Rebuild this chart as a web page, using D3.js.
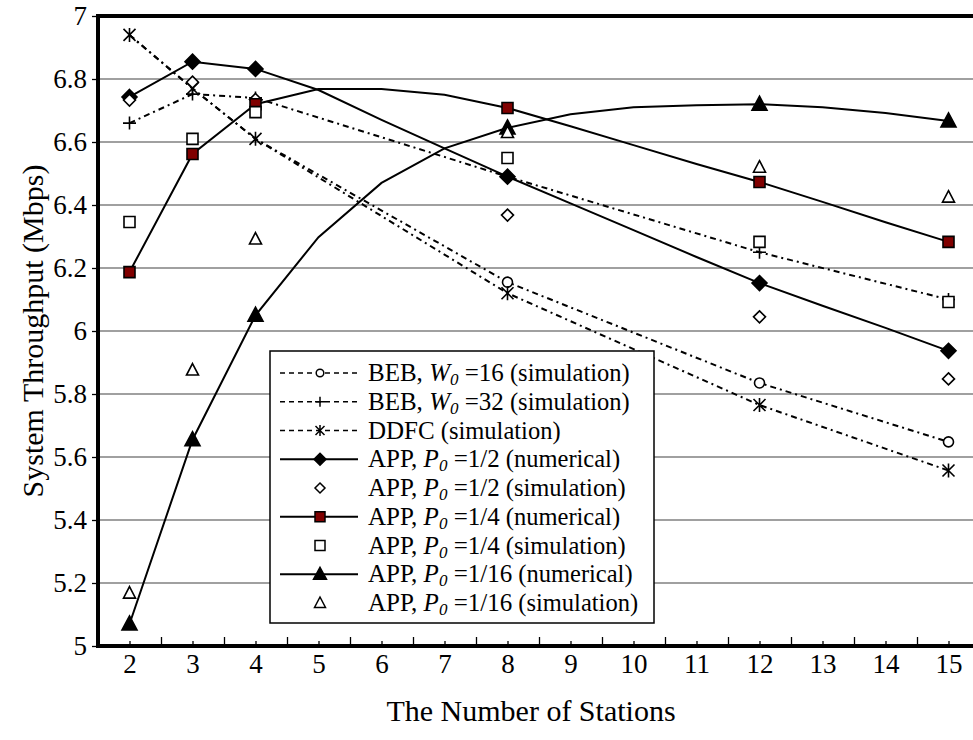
<!DOCTYPE html>
<html>
<head>
<meta charset="utf-8">
<script src="https://cdn.jsdelivr.net/npm/d3@7/dist/d3.min.js"></script>
<style>
  body { margin: 0; background: #fff; }
  svg { display: block; font-family: "Liberation Serif", "Times New Roman", serif; }
</style>
</head>
<body>
<svg id="chart" width="973" height="740"></svg>
<script>
// Number of stations (category axis)
const stations = [2, 3, 4, 5, 6, 7, 8, 9, 10, 11, 12, 13, 14, 15];
// Station counts where simulation results / markers exist
const markedStations = [2, 3, 4, 8, 12, 15];
// BEB W0=16 markers are only drawn where they are not covered by DDFC
const bebW16Marked = [8, 12, 15];

// Simulation results (Mbps) at markedStations
const bebW16Sim = [6.94, 6.77, 6.61, 6.155, 5.835, 5.648];
const bebW32Sim = [6.66, 6.752, 6.74, 6.49, 6.25, 6.10];
const ddfcSim   = [6.94, 6.77, 6.61, 6.12, 5.765, 5.557];
const appHalfSim    = [6.733, 6.79, 6.735, 6.368, 6.045, 5.848];
const appQuarterSim = [6.346, 6.61, 6.695, 6.549, 6.283, 6.092];
const appSixteenSim = [5.168, 5.876, 6.292, 6.63, 6.52, 6.425];

// Numerical results (Mbps) at every station count
const appHalfNum    = [6.743, 6.855, 6.832, 6.765, 6.67, 6.58, 6.49, 6.405, 6.32, 6.235, 6.152, 6.08, 6.01, 5.937];
const appQuarterNum = [6.187, 6.562, 6.72, 6.768, 6.768, 6.75, 6.708, 6.65, 6.59, 6.53, 6.473, 6.41, 6.345, 6.283];
const appSixteenNum = [5.07, 5.655, 6.05, 6.298, 6.47, 6.58, 6.645, 6.688, 6.71, 6.717, 6.72, 6.71, 6.692, 6.667];

// Axis ticks
const yTicks = [5, 5.2, 5.4, 5.6, 5.8, 6, 6.2, 6.4, 6.6, 6.8, 7];
const yTickLabels = ["5", "5.2", "5.4", "5.6", "5.8", "6", "6.2", "6.4", "6.6", "6.8", "7"];
const xBoundaries = [1.5, 2.5, 3.5, 4.5, 5.5, 6.5, 7.5, 8.5, 9.5, 10.5, 11.5, 12.5, 13.5, 14.5, 15.5];

const xTitle = "The Number of Stations";
const yTitle = "System Throughput (Mbps)";

const svg = d3.select("#chart");
const plotLeft = 98, plotRight = 980, plotTop = 16, plotBottom = 646;

const x = d3.scaleLinear().domain([1.5, 15.5]).range([plotLeft, plotRight]);
const y = d3.scaleLinear().domain([5, 7]).range([plotBottom, plotTop]);

// Marker shapes
const shapes = {
  circle:   { d: "M5,0A5,5 0 1,1 -5,0A5,5 0 1,1 5,0Z", fill: "#fff" },
  plus:     { d: "M-6.5,0H6.5M0,-6.5V6.5", fill: "none" },
  asterisk: { d: "M-6,-6L6,6M6,-6L-6,6M0,-7V7", fill: "none" },
  diamondF: { d: "M0,-7.5L7.5,0L0,7.5L-7.5,0Z", fill: "#000" },
  diamondO: { d: "M0,-6L6,0L0,6L-6,0Z", fill: "#fff" },
  squareF:  { d: "M-5.5,-5.5H5.5V5.5H-5.5Z", fill: "#800000" },
  squareO:  { d: "M-5.5,-5.5H5.5V5.5H-5.5Z", fill: "#fff" },
  triF:     { d: "M0,-8L7.5,6H-7.5Z", fill: "#000" },
  triO:     { d: "M0,-6.5L6,5H-6Z", fill: "#fff" }
};

const SIM_DASH = "6,4,2,4";

const series = [
  { xs: markedStations, vs: bebW16Sim, marks: bebW16Marked, line: SIM_DASH, shape: "circle",
    label: [["BEB, "], ["W", "i"], ["0", "s"], [" =16"], [" (simulation)"]] },
  { xs: markedStations, vs: bebW32Sim, marks: markedStations, line: SIM_DASH, shape: "plus",
    label: [["BEB, "], ["W", "i"], ["0", "s"], [" =32"], [" (simulation)"]] },
  { xs: markedStations, vs: ddfcSim, marks: markedStations, line: SIM_DASH, shape: "asterisk",
    label: [["DDFC"], [" (simulation)"]] },
  { xs: stations, vs: appHalfNum, marks: markedStations, line: "solid", shape: "diamondF",
    label: [["APP, "], ["P", "i"], ["0", "s"], [" =1/2"], [" (numerical)"]] },
  { xs: markedStations, vs: appHalfSim, marks: markedStations, line: null, shape: "diamondO",
    label: [["APP, "], ["P", "i"], ["0", "s"], [" =1/2"], [" (simulation)"]] },
  { xs: stations, vs: appQuarterNum, marks: markedStations, line: "solid", shape: "squareF",
    label: [["APP, "], ["P", "i"], ["0", "s"], [" =1/4"], [" (numerical)"]] },
  { xs: markedStations, vs: appQuarterSim, marks: markedStations, line: null, shape: "squareO",
    label: [["APP, "], ["P", "i"], ["0", "s"], [" =1/4"], [" (simulation)"]] },
  { xs: stations, vs: appSixteenNum, marks: markedStations, line: "solid", shape: "triF",
    label: [["APP, "], ["P", "i"], ["0", "s"], [" =1/16"], [" (numerical)"]] },
  { xs: markedStations, vs: appSixteenSim, marks: markedStations, line: null, shape: "triO",
    label: [["APP, "], ["P", "i"], ["0", "s"], [" =1/16"], [" (simulation)"]] }
];

// Horizontal gridlines
svg.append("g").selectAll("line")
  .data(yTicks.filter(t => t > 5 && t < 7))
  .join("line")
  .attr("x1", plotLeft).attr("x2", plotRight)
  .attr("y1", d => y(d)).attr("y2", d => y(d))
  .attr("stroke", "#808080").attr("stroke-width", 1.5);

// Series lines
const lineGen = d3.line().x(d => x(d[0])).y(d => y(d[1]));
const linesG = svg.append("g");
series.forEach(s => {
  if (!s.line) return;
  const pts = s.xs.map((n, i) => [n, s.vs[i]]);
  linesG.append("path")
    .attr("d", lineGen(pts))
    .attr("fill", "none")
    .attr("stroke", "#000")
    .attr("stroke-width", 2)
    .attr("stroke-dasharray", s.line === "solid" ? null : s.line);
});

// Markers
const markersG = svg.append("g");
function drawMarker(g, shape, cx, cy) {
  const sh = shapes[shape];
  g.append("path")
    .attr("d", sh.d)
    .attr("transform", `translate(${cx},${cy})`)
    .attr("fill", sh.fill)
    .attr("stroke", "#000")
    .attr("stroke-width", 1.6)
    .attr("stroke-linejoin", "miter");
}
series.forEach(s => {
  s.xs.forEach((n, i) => {
    if (!s.marks.includes(n)) return;
    drawMarker(markersG, s.shape, x(n), y(s.vs[i]));
  });
});

// Frame: top border and axes
svg.append("line").attr("x1", plotLeft - 2).attr("x2", plotRight).attr("y1", plotTop).attr("y2", plotTop)
  .attr("stroke", "#000").attr("stroke-width", 4);

// X axis: label ticks at category centres, longer ticks at boundaries
const xAxisG = svg.append("g").attr("transform", `translate(0,${plotBottom})`)
  .call(d3.axisBottom(x).tickValues(stations).tickFormat(d3.format("d"))
    .tickSizeInner(-5).tickSizeOuter(0).tickPadding(8));
xAxisG.select(".domain").remove();
xAxisG.selectAll(".tick line").attr("stroke", "#000").attr("stroke-width", 1.3);
xAxisG.selectAll("text").attr("font-size", 27).attr("font-family", "Liberation Serif").attr("fill", "#000");

const xBoundG = svg.append("g").attr("transform", `translate(0,${plotBottom})`)
  .call(d3.axisBottom(x).tickValues(xBoundaries).tickFormat("").tickSizeInner(-9).tickSizeOuter(0));
xBoundG.select(".domain").remove();
xBoundG.selectAll(".tick line").attr("stroke", "#000").attr("stroke-width", 1.3);

// Y axis
const yAxisG = svg.append("g").attr("transform", `translate(${plotLeft},0)`)
  .call(d3.axisLeft(y).tickValues(yTicks).tickFormat((d, i) => yTickLabels[i])
    .tickSizeInner(6).tickSizeOuter(0).tickPadding(5));
yAxisG.select(".domain").remove();
yAxisG.selectAll(".tick line").attr("stroke", "#000").attr("stroke-width", 1.3);
yAxisG.selectAll("text").attr("font-size", 27).attr("font-family", "Liberation Serif").attr("fill", "#000");

svg.append("line").attr("x1", plotLeft).attr("x2", plotLeft).attr("y1", plotTop - 2).attr("y2", plotBottom + 2)
  .attr("stroke", "#000").attr("stroke-width", 4);
svg.append("line").attr("x1", plotLeft - 2).attr("x2", plotRight).attr("y1", plotBottom).attr("y2", plotBottom)
  .attr("stroke", "#000").attr("stroke-width", 4);

// Axis titles
svg.append("text")
  .attr("x", 531).attr("y", 721)
  .attr("text-anchor", "middle")
  .attr("font-size", 30)
  .text(xTitle);
svg.append("text")
  .attr("transform", "translate(43,331) rotate(-90)")
  .attr("text-anchor", "middle")
  .attr("font-size", 30)
  .text(yTitle);

// Legend
const lg = svg.append("g");
lg.append("rect")
  .attr("x", 270).attr("y", 351).attr("width", 384).attr("height", 272)
  .attr("fill", "#fff").attr("stroke", "#000").attr("stroke-width", 1.5);
const rowY0 = 373, rowStep = 28.75;
const legendShapes = {
  circle: "M3.8,0A3.8,3.8 0 1,1 -3.8,0A3.8,3.8 0 1,1 3.8,0Z",
  plus: "M-5,0H5M0,-5V5",
  asterisk: "M-4.5,-4.5L4.5,4.5M4.5,-4.5L-4.5,4.5M0,-5.5V5.5",
  diamondF: "M0,-6L6,0L0,6L-6,0Z",
  diamondO: "M0,-5L5,0L0,5L-5,0Z",
  squareF: "M-5,-5H5V5H-5Z",
  squareO: "M-5,-5H5V5H-5Z",
  triF: "M0,-7L6.5,5H-6.5Z",
  triO: "M0,-6L5.5,4.5H-5.5Z"
};
series.forEach((s, i) => {
  const cy = rowY0 + i * rowStep;
  if (s.line) {
    lg.append("line").attr("x1", 280).attr("x2", 358).attr("y1", cy).attr("y2", cy)
      .attr("stroke", "#000").attr("stroke-width", s.line === "solid" ? 2 : 1.5)
      .attr("stroke-dasharray", s.line === "solid" ? null : "5,4");
  }
  lg.append("path").attr("d", legendShapes[s.shape])
    .attr("transform", `translate(320,${cy})`)
    .attr("fill", shapes[s.shape].fill)
    .attr("stroke", "#000").attr("stroke-width", 1.5);

  const t = lg.append("text").attr("x", 368).attr("y", cy + 8).attr("font-size", 25);
  let shifted = false;
  s.label.forEach(([txt, style]) => {
    const ts = t.append("tspan").text(txt);
    if (style === "i") ts.attr("font-style", "italic");
    if (style === "s") {
      ts.attr("font-style", "italic").attr("font-size", 17).attr("dy", 4);
      shifted = true;
    } else if (shifted) {
      ts.attr("dy", -4);
      shifted = false;
    }
    if (txt.startsWith(" (")) ts.attr("font-size", 24.5);
  });
});
</script>
</body>
</html>
